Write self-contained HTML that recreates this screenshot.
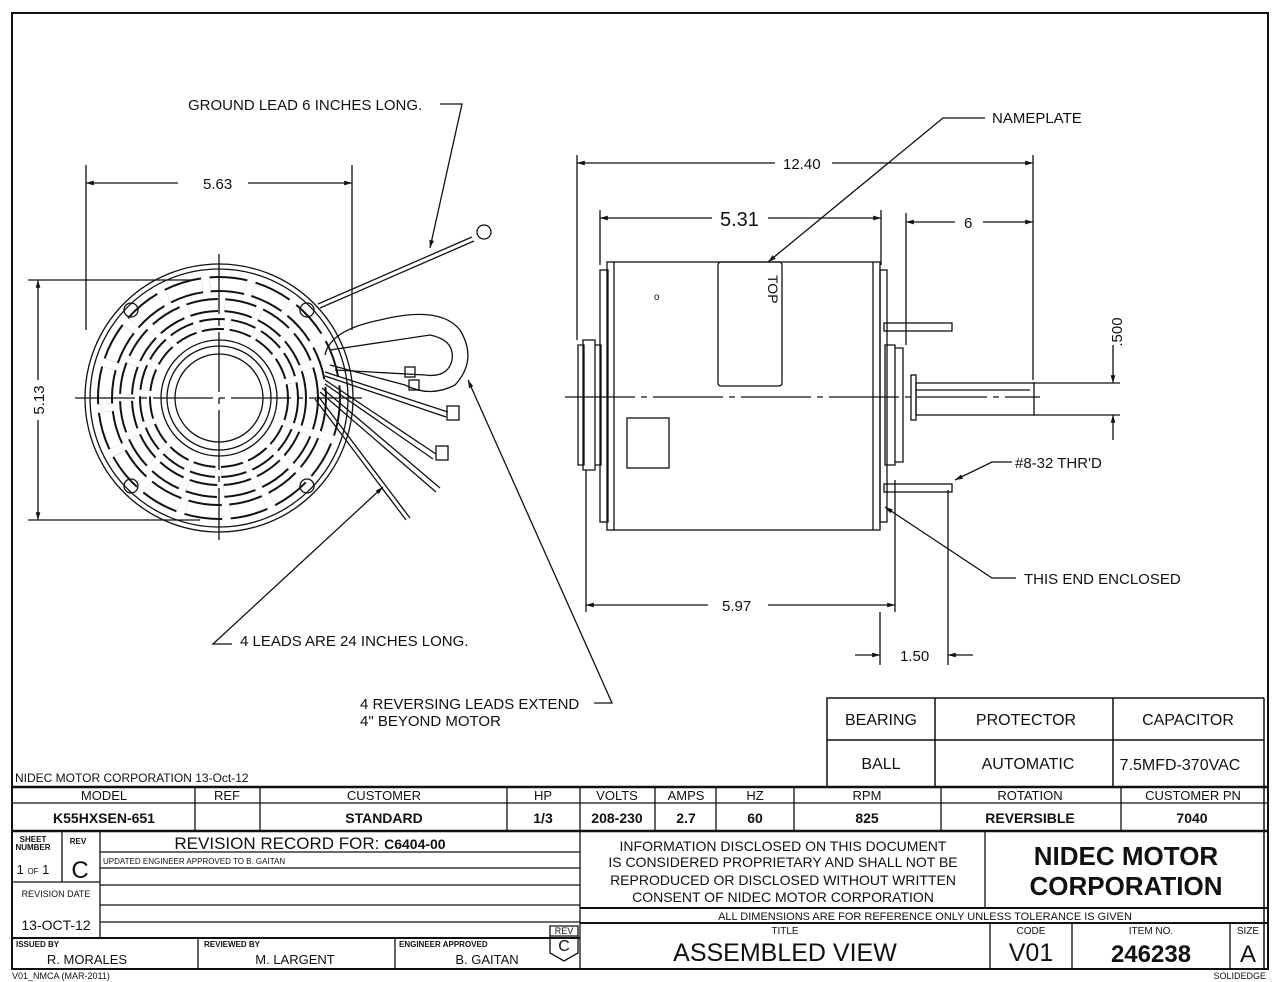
<!DOCTYPE html>
<html><head><meta charset="utf-8"><style>
html,body{margin:0;padding:0;background:#fff}
svg{display:block}
text{font-family:"Liberation Sans",Arial,sans-serif;fill:#111}
</style></head><body>
<svg width="1280" height="982" viewBox="0 0 1280 982" xmlns="http://www.w3.org/2000/svg">
<defs>
<marker id="a" viewBox="0 0 10 10" refX="10" refY="5" markerWidth="9" markerHeight="6" orient="auto-start-reverse"><path d="M0,2 L10,5 L0,8 z" fill="#111"/></marker>
</defs>
<rect x="12" y="13" width="1256" height="956" fill="none" stroke="#111" stroke-width="2"/>

<!-- LEFT VIEW -->
<g stroke="#111" fill="none" stroke-width="1.3">
<line x1="86" y1="165" x2="86" y2="330"/><line x1="352" y1="165" x2="352" y2="330"/>
<line x1="86" y1="183" x2="178" y2="183" marker-start="url(#a)"/><line x1="248" y1="183" x2="352" y2="183" marker-end="url(#a)"/>
<line x1="28" y1="280" x2="200" y2="280"/><line x1="28" y1="520" x2="200" y2="520"/>
<line x1="38" y1="280" x2="38" y2="380" marker-start="url(#a)"/><line x1="38" y1="420" x2="38" y2="520" marker-end="url(#a)"/>
<circle cx="219" cy="398" r="134"/><circle cx="219" cy="398" r="129"/>
<circle cx="219" cy="398" r="114" stroke-width="16" stroke-dasharray="36 8"/>
<circle cx="219" cy="398" r="114" stroke="#fff" stroke-width="12" stroke-dasharray="36 8"/>
<circle cx="219" cy="398" r="93" stroke-width="14" stroke-dasharray="30 7"/>
<circle cx="219" cy="398" r="93" stroke="#fff" stroke-width="10" stroke-dasharray="30 7"/>
<circle cx="219" cy="398" r="74" stroke-width="12" stroke-dasharray="24 6"/>
<circle cx="219" cy="398" r="74" stroke="#fff" stroke-width="8" stroke-dasharray="24 6"/>
<circle cx="219" cy="398" r="58"/><circle cx="219" cy="398" r="52"/><circle cx="219" cy="398" r="44"/>
<circle cx="131" cy="310" r="7"/><circle cx="307" cy="310" r="7"/><circle cx="131" cy="486" r="7"/><circle cx="307" cy="486" r="7"/>
<line x1="219" y1="254" x2="219" y2="540" stroke-dasharray="60 6 6 6"/>
<line x1="75" y1="398" x2="362" y2="398" stroke-dasharray="60 6 6 6"/>
<!-- ground lead -->
<line x1="318" y1="304" x2="472" y2="237"/><line x1="320" y1="308" x2="474" y2="241"/>
<circle cx="484" cy="232" r="7"/>
<polyline points="440,104 462,104 430,248" marker-end="url(#a)"/>
<!-- loop leads -->
<path d="M325,355 Q330,330 380,320 Q440,305 460,330 Q478,360 455,385 Q430,398 405,385 L330,365"/>
<path d="M330,350 L430,335 Q455,340 452,360 Q448,378 425,375 L335,370"/>
<rect x="405" y="367" width="10" height="10"/><rect x="409" y="380" width="10" height="10"/>
<path d="M325,372 L448,412"/><path d="M325,376 L446,417"/><rect x="447" y="406" width="12" height="14"/>
<path d="M325,380 L436,454"/><path d="M325,384 L433,459"/><rect x="436" y="446" width="12" height="14"/>
<path d="M322,388 L440,488"/><path d="M320,392 L436,492"/>
<path d="M318,396 L410,518"/><path d="M315,399 L406,520"/>
<polyline points="232,644 213,644 383,487" marker-end="url(#a)"/>
<polyline points="594,703 612,703 468,380" marker-end="url(#a)"/>
</g>
<g font-size="15">
<text x="188" y="110">GROUND LEAD 6 INCHES LONG.</text>
<text x="203" y="189">5.63</text>
<text x="44" y="400" transform="rotate(-90 44 400)" text-anchor="middle">5.13</text>
<text x="240" y="646">4 LEADS ARE 24 INCHES LONG.</text>
<text x="360" y="709">4 REVERSING LEADS EXTEND</text>
<text x="360" y="726">4" BEYOND MOTOR</text>
</g>

<!-- RIGHT VIEW -->
<g stroke="#111" fill="none" stroke-width="1.3">
<line x1="577" y1="155" x2="577" y2="340"/><line x1="1033" y1="155" x2="1033" y2="380"/>
<line x1="577" y1="163" x2="775" y2="163" marker-start="url(#a)"/><line x1="832" y1="163" x2="1033" y2="163" marker-end="url(#a)"/>
<line x1="600" y1="210" x2="600" y2="265"/><line x1="881" y1="210" x2="881" y2="265"/>
<line x1="600" y1="218" x2="712" y2="218" marker-start="url(#a)"/><line x1="768" y1="218" x2="881" y2="218" marker-end="url(#a)"/>
<line x1="906" y1="213" x2="906" y2="345"/>
<line x1="906" y1="222" x2="955" y2="222" marker-start="url(#a)"/><line x1="983" y1="222" x2="1033" y2="222" marker-end="url(#a)"/>
<!-- body -->
<rect x="607" y="262" width="273" height="268"/>
<line x1="614" y1="262" x2="614" y2="530"/><line x1="873" y1="262" x2="873" y2="530"/>
<rect x="600" y="270" width="8" height="252"/><rect x="880" y="270" width="7" height="252"/>
<rect x="718" y="262" width="64" height="124" rx="3"/>
<rect x="627" y="418" width="42" height="50"/>
<path d="M583,340 h12 v130 h-12 z M578,345 h6 v120 h-6 z M595,345 h6 v120 h-6z"/>
<path d="M885,345 h10 v120 h-10 z M895,348 h8 v114 h-8 z"/>
<rect x="911" y="375" width="5" height="45"/>
<rect x="916" y="383" width="118" height="32"/>
<line x1="916" y1="390" x2="1030" y2="390"/>
<line x1="1033" y1="383" x2="1120" y2="383"/><line x1="1033" y1="415" x2="1120" y2="415"/>
<line x1="1113" y1="345" x2="1113" y2="383" marker-end="url(#a)"/><line x1="1113" y1="440" x2="1113" y2="415" marker-end="url(#a)"/>
<line x1="565" y1="397" x2="1040" y2="397" stroke-dasharray="70 6 6 6"/>
<rect x="884" y="323" width="68" height="8"/><rect x="884" y="484" width="68" height="8"/>
<polyline points="985,118 943,118 768,262" marker-end="url(#a)"/>
<polyline points="1012,462 992,462 955,480" marker-end="url(#a)"/>
<polyline points="1016,578 992,578 885,507" marker-end="url(#a)"/>
<line x1="586" y1="470" x2="586" y2="612"/><line x1="895" y1="480" x2="895" y2="612"/>
<line x1="586" y1="605" x2="708" y2="605" marker-start="url(#a)"/><line x1="768" y1="605" x2="895" y2="605" marker-end="url(#a)"/>
<line x1="880" y1="612" x2="880" y2="665"/><line x1="948" y1="490" x2="948" y2="665"/>
<line x1="855" y1="655" x2="880" y2="655" marker-end="url(#a)"/><line x1="973" y1="655" x2="948" y2="655" marker-end="url(#a)"/>
</g>
<g font-size="15">
<text x="783" y="169">12.40</text>
<text x="720" y="226" font-size="20">5.31</text>
<text x="964" y="228">6</text>
<text x="1122" y="332" transform="rotate(-90 1122 332)" text-anchor="middle">.500</text>
<text x="992" y="123">NAMEPLATE</text>
<text x="1015" y="468">#8-32 THR'D</text>
<text x="1024" y="584">THIS END ENCLOSED</text>
<text x="722" y="611">5.97</text>
<text x="900" y="661">1.50</text>
<text x="768" y="275" transform="rotate(90 768 275)" font-size="14">TOP</text>
<text x="654" y="300" font-size="10">o</text>
</g>

<!-- SPEC TABLE -->
<g stroke="#111" fill="none" stroke-width="1.5">
<polyline points="827,786 827,698 1264,698"/>
<line x1="827" y1="740" x2="1264" y2="740"/>
<line x1="935" y1="698" x2="935" y2="786"/><line x1="1113" y1="698" x2="1113" y2="786"/>
<line x1="1264" y1="698" x2="1264" y2="969"/>
</g>
<g font-size="16" text-anchor="middle">
<text x="881" y="725">BEARING</text><text x="1026" y="725">PROTECTOR</text><text x="1188" y="725">CAPACITOR</text>
<text x="881" y="769">BALL</text><text x="1028" y="769">AUTOMATIC</text><text x="1180" y="770">7.5MFD-370VAC</text>
</g>
<text x="15" y="782" font-size="12">NIDEC MOTOR CORPORATION 13-Oct-12</text>

<!-- TITLE BLOCK -->
<g stroke="#111" fill="none" stroke-width="1.3">
<line x1="12" y1="787" x2="1268" y2="787" stroke-width="2.5"/>
<line x1="12" y1="803" x2="1268" y2="803"/>
<line x1="12" y1="831" x2="1268" y2="831" stroke-width="2.5"/>
<line x1="195" y1="787" x2="195" y2="831"/><line x1="260" y1="787" x2="260" y2="831"/>
<line x1="507" y1="787" x2="507" y2="831"/><line x1="580" y1="787" x2="580" y2="969"/>
<line x1="655" y1="787" x2="655" y2="831"/><line x1="716" y1="787" x2="716" y2="831"/>
<line x1="794" y1="787" x2="794" y2="831"/><line x1="941" y1="787" x2="941" y2="831"/>
<line x1="1121" y1="787" x2="1121" y2="831"/>
<!-- rev record -->
<line x1="62" y1="831" x2="62" y2="882"/><line x1="100" y1="831" x2="100" y2="938"/>
<line x1="12" y1="882" x2="100" y2="882"/>
<line x1="100" y1="852" x2="580" y2="852"/><line x1="100" y1="868" x2="580" y2="868"/>
<line x1="100" y1="885" x2="580" y2="885"/><line x1="100" y1="905" x2="580" y2="905"/>
<line x1="100" y1="922" x2="580" y2="922"/>
<line x1="12" y1="938" x2="580" y2="938" stroke-width="2"/>
<line x1="198" y1="938" x2="198" y2="969"/><line x1="395" y1="938" x2="395" y2="969"/>
<path d="M550,926 h28 v27 l-14,8 l-14,-8 z"/><line x1="550" y1="936" x2="578" y2="936"/>
<!-- right lower -->
<line x1="985" y1="831" x2="985" y2="908"/>
<line x1="580" y1="908" x2="1268" y2="908" stroke-width="2"/>
<line x1="580" y1="923" x2="1268" y2="923" stroke-width="2"/>
<line x1="990" y1="923" x2="990" y2="969"/><line x1="1072" y1="923" x2="1072" y2="969"/>
<line x1="1230" y1="923" x2="1230" y2="969"/>
</g>
<g font-size="13" text-anchor="middle">
<text x="104" y="800">MODEL</text><text x="227" y="800">REF</text><text x="384" y="800">CUSTOMER</text><text x="543" y="800">HP</text>
<text x="617" y="800">VOLTS</text><text x="686" y="800">AMPS</text><text x="755" y="800">HZ</text><text x="867" y="800">RPM</text>
<text x="1030" y="800">ROTATION</text><text x="1193" y="800">CUSTOMER PN</text>
</g>
<g font-size="14" font-weight="bold" text-anchor="middle">
<text x="104" y="823">K55HXSEN-651</text><text x="384" y="823">STANDARD</text><text x="543" y="823">1/3</text>
<text x="617" y="823">208-230</text><text x="686" y="823">2.7</text><text x="755" y="823">60</text><text x="867" y="823">825</text>
<text x="1030" y="823">REVERSIBLE</text><text x="1192" y="823">7040</text>
</g>
<g text-anchor="middle">
<text x="33" y="842" font-size="8" font-weight="bold">SHEET</text><text x="33" y="850" font-size="8" font-weight="bold">NUMBER</text>
<text x="78" y="844" font-size="8" font-weight="bold">REV</text>
<text x="33" y="874" font-size="13">1 <tspan font-size="8">OF</tspan> 1</text>
<text x="80" y="878" font-size="24">C</text>
<text x="56" y="897" font-size="9">REVISION DATE</text>
<text x="56" y="930" font-size="14">13-OCT-12</text>
<text x="310" y="849" font-size="17">REVISION RECORD FOR: <tspan font-size="14" font-weight="bold">C6404-00</tspan></text>
<text x="564" y="934" font-size="9">REV</text><text x="564" y="951" font-size="16">C</text>
<text x="783" y="851" font-size="14">INFORMATION DISCLOSED ON THIS DOCUMENT</text>
<text x="783" y="867" font-size="14">IS CONSIDERED PROPRIETARY AND SHALL NOT BE</text>
<text x="783" y="885" font-size="14">REPRODUCED OR DISCLOSED WITHOUT WRITTEN</text>
<text x="783" y="902" font-size="14">CONSENT OF NIDEC MOTOR CORPORATION</text>
<text x="1126" y="865" font-size="26" font-weight="bold">NIDEC MOTOR</text>
<text x="1126" y="895" font-size="26" font-weight="bold">CORPORATION</text>
<text x="925" y="920" font-size="11">ALL DIMENSIONS ARE FOR REFERENCE ONLY UNLESS TOLERANCE IS GIVEN</text>
<text x="785" y="934" font-size="10">TITLE</text><text x="785" y="961" font-size="25">ASSEMBLED VIEW</text>
<text x="1031" y="934" font-size="10">CODE</text><text x="1031" y="961" font-size="25">V01</text>
<text x="1151" y="934" font-size="10">ITEM NO.</text><text x="1151" y="962" font-size="24" font-weight="bold">246238</text>
<text x="1248" y="934" font-size="10">SIZE</text><text x="1248" y="962" font-size="24">A</text>
<text x="87" y="964" font-size="13">R. MORALES</text>
<text x="295" y="964" font-size="13">M. LARGENT</text>
<text x="487" y="964" font-size="13">B. GAITAN</text>
</g>
<text x="103" y="864" font-size="8">UPDATED ENGINEER APPROVED TO B. GAITAN</text>
<text x="16" y="947" font-size="8" font-weight="bold">ISSUED BY</text>
<text x="204" y="947" font-size="8" font-weight="bold">REVIEWED BY</text>
<text x="399" y="947" font-size="8" font-weight="bold">ENGINEER APPROVED</text>
<text x="12" y="979" font-size="9">V01_NMCA (MAR-2011)</text>
<text x="1266" y="979" font-size="9" text-anchor="end">SOLIDEDGE</text>
</svg>
</body></html>
